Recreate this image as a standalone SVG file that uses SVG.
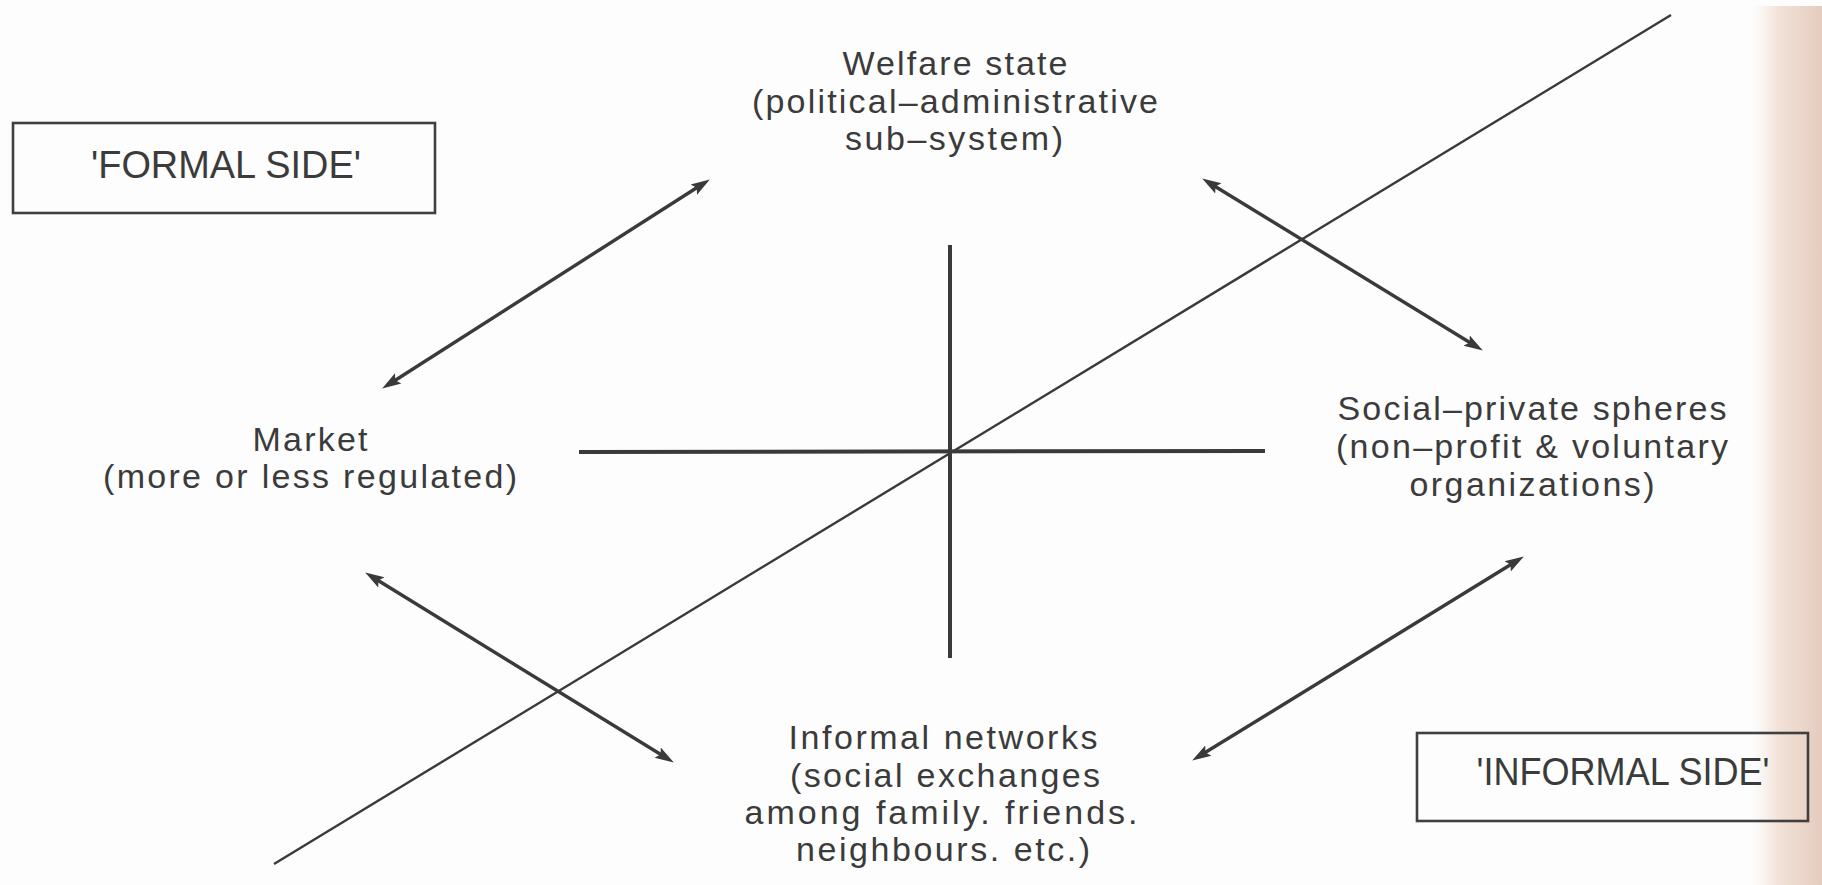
<svg xmlns="http://www.w3.org/2000/svg" width="1822" height="885" viewBox="0 0 1822 885">
  <defs>
    <style>
      .lbl { font-family: "Liberation Sans", Arial, Helvetica, sans-serif; font-size: 34px; fill: #3b3b3b; text-anchor: middle; }
      .side { font-family: "Liberation Sans", Arial, Helvetica, sans-serif; font-size: 39px; fill: #3b3b3b; text-anchor: middle; }
      .box { fill: none; stroke: #404040; stroke-width: 2.6; }
      .axis { stroke: #3a3a3a; stroke-width: 4; fill: none; }
      .diag { stroke: #3a3a3a; stroke-width: 2.4; fill: none; }
      .link { stroke: #3a3a3a; stroke-width: 3.4; fill: none; marker-start: url(#head); marker-end: url(#head); }
    </style>
    <marker id="head" viewBox="0 0 20 14" refX="9" refY="7" markerWidth="20" markerHeight="14" markerUnits="userSpaceOnUse" orient="auto-start-reverse">
      <path d="M0,1 L19,7 L0,13 L3.5,7 Z" fill="#3a3a3a"/>
    </marker>
    <linearGradient id="edge" x1="0" y1="0" x2="1" y2="0">
      <stop offset="0" stop-color="#f3e4d9" stop-opacity="0"/>
      <stop offset="0.4" stop-color="#efdcd0" stop-opacity="0.85"/>
      <stop offset="1" stop-color="#e4cbbd"/>
    </linearGradient>
  </defs>

  <!-- page -->
  <rect x="0" y="0" width="1822" height="885" fill="#fdfdfd"/>
  <rect x="1752" y="6" width="70" height="879" fill="url(#edge)"/>

  <!-- quadrant axes and dividing diagonal -->
  <g id="axes">
    <line class="axis" x1="950" y1="245" x2="950" y2="658"/>
    <line class="axis" x1="579" y1="452" x2="1265" y2="451"/>
    <line class="diag" x1="274" y1="864" x2="1671" y2="15"/>
  </g>

  <!-- two-way relations between the four sectors -->
  <g id="connectors">
    <line class="link" x1="390.6" y1="383.2" x2="701.4" y2="184.8"/>
    <line class="link" x1="1210.7" y1="183.7" x2="1474.3" y2="345.3"/>
    <line class="link" x1="373.7" y1="577.7" x2="665.3" y2="757.3"/>
    <line class="link" x1="1200.7" y1="755.3" x2="1515.3" y2="561.7"/>
  </g>

  <g id="node-welfare">
    <text class="lbl" x="955" y="75" textLength="225" lengthAdjust="spacing">Welfare state</text>
    <text class="lbl" x="955" y="113" textLength="406" lengthAdjust="spacing">(political–administrative</text>
    <text class="lbl" x="954" y="150" textLength="218" lengthAdjust="spacing">sub–system)</text>
  </g>

  <g id="node-market">
    <text class="lbl" x="310" y="451" textLength="115" lengthAdjust="spacing">Market</text>
    <text class="lbl" x="310" y="488" textLength="414" lengthAdjust="spacing">(more or less regulated)</text>
  </g>

  <g id="node-social">
    <text class="lbl" x="1532" y="420" textLength="389" lengthAdjust="spacing">Social–private spheres</text>
    <text class="lbl" x="1532" y="458" textLength="392" lengthAdjust="spacing">(non–profit &amp; voluntary</text>
    <text class="lbl" x="1532" y="496" textLength="245" lengthAdjust="spacing">organizations)</text>
  </g>

  <g id="node-informal">
    <text class="lbl" x="943" y="749" textLength="309" lengthAdjust="spacing">Informal networks</text>
    <text class="lbl" x="945" y="787" textLength="310" lengthAdjust="spacing">(social exchanges</text>
    <text class="lbl" x="941" y="824" textLength="393" lengthAdjust="spacing">among family. friends.</text>
    <text class="lbl" x="943" y="861" textLength="294" lengthAdjust="spacing">neighbours. etc.)</text>
  </g>

  <g id="node-formal-side">
    <rect class="box" x="13" y="123" width="422" height="90"/>
    <text class="side" x="226" y="178" textLength="270" lengthAdjust="spacingAndGlyphs">'FORMAL SIDE'</text>
  </g>

  <g id="node-informal-side">
    <rect class="box" x="1417" y="733" width="391" height="88"/>
    <text class="side" x="1623" y="785" textLength="293" lengthAdjust="spacingAndGlyphs">'INFORMAL SIDE'</text>
  </g>
</svg>
